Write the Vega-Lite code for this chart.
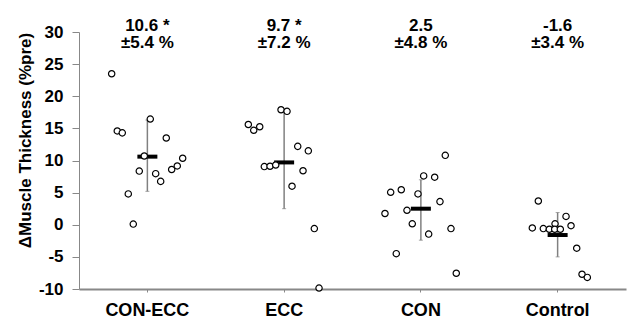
{
  "$schema": "https://vega.github.io/schema/vega-lite/v6.json",
  "width": 547,
  "height": 257,
  "autosize": "none",
  "padding": {"left": 79, "top": 32, "right": 5, "bottom": 35},
  "background": "white",
  "config": {
    "view": {"stroke": null},
    "font": "Liberation Sans",
    "axisY": {"values": [-10, -5, 0, 5, 10, 15, 20, 25, 30], "labelOverlap": false, "labelExpr": "'' + datum.value", "grid": false, "labelFontSize": 17, "labelFontWeight": "bold", "labelColor": "black", "tickSize": 7, "labelPadding": 9, "domainColor": "#888888", "tickColor": "#888888", "titleFontSize": 17, "titleFontWeight": "bold", "titleColor": "black", "titleX": -54, "titleY": 108, "titleBaseline": "middle"},
    "axisX": {"labelAngle": 0, "labelFontSize": 18, "labelFontWeight": "bold", "labelColor": "black", "tickSize": 3, "labelPadding": 9, "domainColor": "#888888", "domainWidth": 2, "tickColor": "#888888", "grid": false}
  },
  "datasets": {
    "points": [
      {"group": "CON-ECC", "offset": -35.7, "value": 23.5},
      {"group": "CON-ECC", "offset": 2.9, "value": 16.45},
      {"group": "CON-ECC", "offset": -30.1, "value": 14.6},
      {"group": "CON-ECC", "offset": -25.1, "value": 14.3},
      {"group": "CON-ECC", "offset": 18.9, "value": 13.5},
      {"group": "CON-ECC", "offset": -3.1, "value": 10.7},
      {"group": "CON-ECC", "offset": 35.3, "value": 10.35},
      {"group": "CON-ECC", "offset": 29.9, "value": 9.15},
      {"group": "CON-ECC", "offset": 24.3, "value": 8.6},
      {"group": "CON-ECC", "offset": -8.1, "value": 8.35},
      {"group": "CON-ECC", "offset": 8.3, "value": 7.95},
      {"group": "CON-ECC", "offset": 13.3, "value": 6.75},
      {"group": "CON-ECC", "offset": -19.1, "value": 4.8},
      {"group": "CON-ECC", "offset": -14.1, "value": 0.1},
      {"group": "ECC", "offset": -3.1, "value": 17.9},
      {"group": "ECC", "offset": 2.9, "value": 17.65},
      {"group": "ECC", "offset": -35.8, "value": 15.6},
      {"group": "ECC", "offset": -30.4, "value": 14.7},
      {"group": "ECC", "offset": -24.4, "value": 15.25},
      {"group": "ECC", "offset": 13.6, "value": 12.2},
      {"group": "ECC", "offset": 24.2, "value": 11.5},
      {"group": "ECC", "offset": -19.8, "value": 9.05},
      {"group": "ECC", "offset": -14.1, "value": 9.1},
      {"group": "ECC", "offset": -8.4, "value": 9.3},
      {"group": "ECC", "offset": 18.9, "value": 8.4},
      {"group": "ECC", "offset": 7.9, "value": 6.0},
      {"group": "ECC", "offset": 30.2, "value": -0.6},
      {"group": "ECC", "offset": 34.9, "value": -9.85},
      {"group": "CON", "offset": 24.4, "value": 10.8},
      {"group": "CON", "offset": 2.8, "value": 7.6},
      {"group": "CON", "offset": 13.8, "value": 7.4},
      {"group": "CON", "offset": -30.2, "value": 5.05},
      {"group": "CON", "offset": -19.6, "value": 5.45},
      {"group": "CON", "offset": -2.9, "value": 4.8},
      {"group": "CON", "offset": 19.1, "value": 3.6},
      {"group": "CON", "offset": -35.9, "value": 1.75},
      {"group": "CON", "offset": -13.9, "value": 2.25},
      {"group": "CON", "offset": -8.6, "value": 0.15},
      {"group": "CON", "offset": 30.1, "value": -0.6},
      {"group": "CON", "offset": 7.8, "value": -1.45},
      {"group": "CON", "offset": -24.6, "value": -4.5},
      {"group": "CON", "offset": 35.4, "value": -7.55},
      {"group": "Control", "offset": -19.3, "value": 3.7},
      {"group": "Control", "offset": 8.4, "value": 1.3},
      {"group": "Control", "offset": -2.6, "value": 0.15},
      {"group": "Control", "offset": -25.3, "value": -0.5},
      {"group": "Control", "offset": -14.3, "value": -0.6},
      {"group": "Control", "offset": -8.3, "value": -0.7},
      {"group": "Control", "offset": -2.9, "value": -0.7},
      {"group": "Control", "offset": 2.7, "value": -0.7},
      {"group": "Control", "offset": 13.4, "value": -0.15},
      {"group": "Control", "offset": 19.1, "value": -3.65},
      {"group": "Control", "offset": 24.4, "value": -7.7},
      {"group": "Control", "offset": 29.7, "value": -8.2}
    ],
    "summary": [
      {"group": "CON-ECC", "mean": 10.6, "lo": 5.2, "hi": 16.3, "label": "10.6 *\n±5.4 %"},
      {"group": "ECC", "mean": 9.7, "lo": 2.5, "hi": 18.0, "label": "9.7 *\n±7.2 %"},
      {"group": "CON", "mean": 2.5, "lo": -2.4, "hi": 7.0, "label": "2.5\n±4.8 %"},
      {"group": "Control", "mean": -1.6, "lo": -5.0, "hi": 1.9, "label": "-1.6\n±3.4 %"}
    ]
  },
  "layer": [
    {
      "mark": {"type": "rule", "color": "#888888", "strokeWidth": 1, "strokeDash": [2, 2]},
      "encoding": {
        "y": {"datum": 0, "type": "quantitative", "scale": {"domain": [-10, 30], "nice": false, "zero": false}, "axis": {"title": "ΔMuscle Thickness (%pre)"}}
      }
    },
    {
      "data": {"name": "summary"},
      "mark": {"type": "rule", "color": "#808080", "strokeWidth": 1.5},
      "encoding": {
        "x": {"field": "group", "type": "nominal", "sort": ["CON-ECC", "ECC", "CON", "Control"], "scale": {"paddingInner": 0, "paddingOuter": 0}, "axis": {"title": null}},
        "y": {"field": "lo", "type": "quantitative", "axis": {"title": "ΔMuscle Thickness (%pre)"}},
        "y2": {"field": "hi"}
      }
    },
    {
      "data": {"name": "summary"},
      "mark": {"type": "tick", "color": "#808080", "size": 4, "thickness": 1},
      "encoding": {
        "x": {"field": "group", "type": "nominal", "sort": ["CON-ECC", "ECC", "CON", "Control"]},
        "y": {"field": "lo", "type": "quantitative"}
      }
    },
    {
      "data": {"name": "summary"},
      "mark": {"type": "tick", "color": "#808080", "size": 4, "thickness": 1},
      "encoding": {
        "x": {"field": "group", "type": "nominal", "sort": ["CON-ECC", "ECC", "CON", "Control"]},
        "y": {"field": "hi", "type": "quantitative"}
      }
    },
    {
      "data": {"name": "summary"},
      "mark": {"type": "tick", "color": "black", "size": 20, "thickness": 4, "opacity": 1},
      "encoding": {
        "x": {"field": "group", "type": "nominal", "sort": ["CON-ECC", "ECC", "CON", "Control"]},
        "y": {"field": "mean", "type": "quantitative"}
      }
    },
    {
      "data": {"name": "points"},
      "mark": {"type": "point", "shape": "circle", "filled": true, "fill": "white", "stroke": "black", "strokeWidth": 1.2, "size": 40, "opacity": 1},
      "encoding": {
        "x": {"field": "group", "type": "nominal", "sort": ["CON-ECC", "ECC", "CON", "Control"]},
        "xOffset": {"field": "offset", "type": "quantitative", "scale": {"domain": [-68.375, 68.375], "nice": false, "zero": false}},
        "y": {"field": "value", "type": "quantitative"}
      }
    },
    {
      "data": {"name": "summary"},
      "mark": {"type": "text", "fontSize": 17, "fontWeight": "bold", "color": "black", "baseline": "alphabetic", "align": "center", "lineBreak": "\n", "lineHeight": 17.5},
      "encoding": {
        "x": {"field": "group", "type": "nominal", "sort": ["CON-ECC", "ECC", "CON", "Control"]},
        "y": {"datum": 30.2, "type": "quantitative"},
        "text": {"field": "label"}
      }
    }
  ]
}
